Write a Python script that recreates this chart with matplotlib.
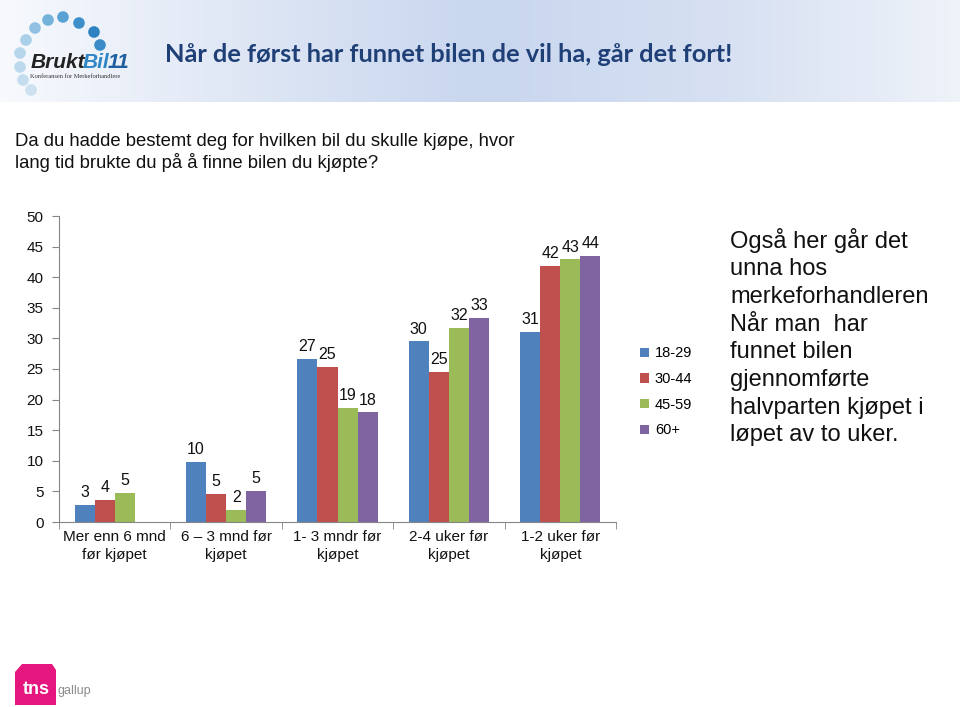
import numpy as np
import matplotlib

matplotlib.use("Agg")
import matplotlib.pyplot as plt
from matplotlib.colors import LinearSegmentedColormap
from matplotlib.patches import Circle, Polygon

categories = ["Mer enn 6 mnd\nfør kjøpet", "6 – 3 mnd før\nkjøpet", "1- 3 mndr før\nkjøpet",
              "2-4 uker før\nkjøpet", "1-2 uker før\nkjøpet"]
age_groups = ["18-29", "30-44", "45-59", "60+"]
share_18_29 = [2.8, 9.8, 26.7, 29.5, 31.0]
share_30_44 = [3.6, 4.6, 25.4, 24.5, 41.8]
share_45_59 = [4.7, 1.9, 18.7, 31.7, 42.9]
share_60 = [np.nan, 5.1, 17.9, 33.3, 43.5]
labels_18_29 = ["3", "10", "27", "30", "31"]
labels_30_44 = ["4", "5", "25", "25", "42"]
labels_45_59 = ["5", "2", "19", "32", "43"]
labels_60 = ["", "5", "18", "33", "44"]
y_ticks = [0, 5, 10, 15, 20, 25, 30, 35, 40, 45, 50]

series = [share_18_29, share_30_44, share_45_59, share_60]
series_labels = [labels_18_29, labels_30_44, labels_45_59, labels_60]
colors = ["#4F81BD", "#C0504D", "#9BBB59", "#8064A2"]

plt.rcParams["font.family"] = ["Liberation Sans", "DejaVu Sans"]

fig = plt.figure(figsize=(9.6, 7.07), dpi=100)

# page decoration in pixel coordinates
deco = fig.add_axes([0, 0, 1, 1], zorder=-1)
deco.set_xlim(0, 960)
deco.set_ylim(707, 0)
deco.axis("off")
header = LinearSegmentedColormap.from_list("hdr", ["#f7f9fd", "#dfe7f5", "#c8d6ee", "#d6e0f2", "#eef2f9"])
grad = np.tile(np.linspace(0, 1, 256), (10, 1))
deco.imshow(grad, cmap=header, extent=(0, 960, 102, 0), aspect="auto", interpolation="bilinear")
deco.text(165, 55, "Når de først har funnet bilen de vil ha, går det fort!", fontsize=18.3,
          fontweight="bold", family="Lato", color="#1F3F77", va="center")

dots = [(20, 53), (20, 67), (23, 80), (31, 90), (26, 40), (35, 28), (48, 20), (63, 17), (79, 23), (94, 32), (100, 45)]
dot_colors = ["#b5d6ec", "#bcdaee", "#c3ddef", "#cce2f1", "#a9cfe9", "#90c1e3", "#74b2dc", "#5aa2d4",
              "#3f90ca", "#2f82c0", "#3a8cc8"]
for (cx, cy), c in zip(dots, dot_colors):
    deco.add_patch(Circle((cx, cy), 5.8, color=c, lw=0))
deco.text(31, 62, "Brukt", fontsize=15, fontweight="heavy", style="italic", color="#222222", va="center")
deco.text(83, 62, "Bil", fontsize=15, fontweight="heavy", style="italic", color="#2f86c6", va="center")
deco.text(108, 62, "11", fontsize=15, fontweight="heavy", style="italic", color="#1f5f9f", va="center")
deco.text(30, 76, "Konferansen for Merkeforhandlere", fontsize=4.6, family="Liberation Serif",
          color="#333333", va="center")

deco.text(15, 153, "Da du hadde bestemt deg for hvilken bil du skulle kjøpe, hvor\n"
          "lang tid brukte du på å finne bilen du kjøpte?", fontsize=13.3, va="center",
          linespacing=1.2, color="#111111")

deco.text(730, 337, "Også her går det\nunna hos\nmerkeforhandleren\nNår man  har\nfunnet bilen\n"
          "gjennomførte\nhalvparten kjøpet i\nløpet av to uker.", fontsize=17, va="center",
          linespacing=1.33, color="#111111")

deco.add_patch(Polygon([(15, 672), (22, 664), (52, 664), (56, 670), (56, 705), (15, 705)],
                       closed=True, color="#E5177E", lw=0))
deco.text(23, 690, "tns", fontsize=13, fontweight="bold", color="white", va="center")
deco.text(58, 691, "gallup", fontsize=9, color="#8c8c8c", va="center")

# chart
ax = fig.add_axes([59 / 960, 1 - 522 / 707, 557 / 960, 306 / 707])
x = np.arange(len(categories))
width = 0.18
for i, (vals, labs) in enumerate(zip(series, series_labels)):
    pos = x + (i - 1.5) * width
    ax.bar(pos, vals, width, color=colors[i], label=age_groups[i])
    for p, v, lab in zip(pos, vals, labs):
        if lab:
            ax.text(p, v + 0.8, lab, ha="center", va="bottom", fontsize=11.5, color="#111111")

ax.set_xlim(-0.5, len(categories) - 0.5)
ax.set_ylim(0, 50)
ax.set_yticks(y_ticks)
ax.set_xticks(x)
ax.set_xticklabels(categories, fontsize=11, color="#111111", linespacing=1.3)
ax.set_xticks(np.arange(len(categories) + 1) - 0.5, minor=True)
ax.tick_params(axis="x", which="major", length=0, pad=6)
ax.tick_params(axis="x", which="minor", length=5, color="#868686")
ax.tick_params(axis="y", length=5, color="#868686", labelsize=11, labelcolor="#111111", pad=6)
for side in ["top", "right"]:
    ax.spines[side].set_visible(False)
for side in ["left", "bottom"]:
    ax.spines[side].set_color("#868686")

ax.legend(loc="center left", bbox_to_anchor=(1.02, 0.425), frameon=False, fontsize=10.5,
          handlelength=0.6, handleheight=0.6, handletextpad=0.4, labelspacing=0.8)

fig.savefig("out.png", dpi=100)
